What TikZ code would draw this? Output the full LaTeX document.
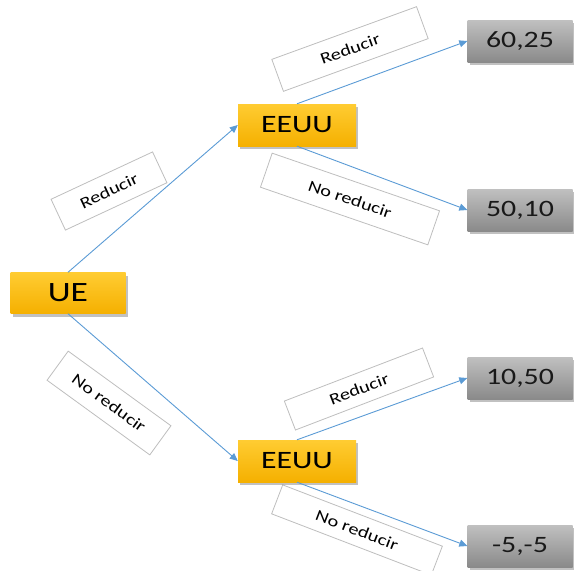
\documentclass[tikz,border=0pt]{standalone}
\usepackage{fontspec}
\setmainfont{Carlito}
\newfontfamily\widefont[FakeStretch=1.27]{Carlito}
\usetikzlibrary{arrows.meta,shadows}
\definecolor{goldtop}{RGB}{255,204,50}
\definecolor{goldbot}{RGB}{245,176,0}
\definecolor{greytop}{RGB}{192,192,192}
\definecolor{greybot}{RGB}{138,138,138}
\definecolor{linkblue}{RGB}{91,155,213}
\definecolor{framegrey}{RGB}{190,190,190}
\tikzset{
  player/.style={draw=none, top color=goldtop, bottom color=goldbot,
    inner sep=0pt, text=black,
    drop shadow={shadow xshift=2pt, shadow yshift=-3pt, opacity=0.35, fill=black!70}},
  payoff/.style={draw=none, top color=greytop, bottom color=greybot,
    minimum width=105pt, minimum height=42pt, inner sep=0pt, text=black!90,
    font=\widefont\fontsize{23.5}{26}\selectfont,
    drop shadow={shadow xshift=2pt, shadow yshift=-3pt, opacity=0.35, fill=black!70}},
  movebox/.style={draw=framegrey, line width=0.8pt, fill=white, inner sep=0pt,
    font=\widefont\fontsize{16}{18}\selectfont},
  move/.style={draw=linkblue, line width=0.9pt, -{Triangle[length=8pt,width=7pt]}}
}
\begin{document}
\begin{tikzpicture}[x=1pt,y=-1pt]
\useasboundingbox (0,0) rectangle (574,571);

% choice labels
\node[movebox, minimum width=112pt, minimum height=34pt, rotate=25] (l1) at (109,191) {Reducir};
\node[movebox, minimum width=127pt, minimum height=36pt, rotate=-36] (l2) at (109,403) {No reducir};
\node[movebox, minimum width=154pt, minimum height=34pt, rotate=20] (l3) at (350,49) {Reducir};
\node[movebox, minimum width=177pt, minimum height=36pt, rotate=-19] (l4) at (350,199) {No reducir};
\node[movebox, minimum width=148pt, minimum height=31pt, rotate=21] (l5) at (359,389) {Reducir};
\node[movebox, minimum width=171pt, minimum height=31pt, rotate=-21] (l6) at (357,530) {No reducir};

% decision nodes
\node[player, minimum width=115pt, minimum height=41pt,
      font=\widefont\fontsize{28}{30}\selectfont] (ue) at (68,293) {UE};
\node[player, minimum width=118pt, minimum height=42pt,
      font=\widefont\fontsize{25}{28}\selectfont] (e1) at (297,125) {EEUU};
\node[player, minimum width=118pt, minimum height=42pt,
      font=\widefont\fontsize{25}{28}\selectfont] (e2) at (297,461) {EEUU};

% payoffs
\node[payoff] (p1) at (520,41) {60,25};
\node[payoff] (p2) at (520,210) {50,10};
\node[payoff] (p3) at (520,378) {10,50};
\node[payoff] (p4) at (520,546) {-5,-5};

% branches
\draw[move] (ue.north) -- (e1.west);
\draw[move] (ue.south) -- (e2.west);
\draw[move] (e1.north) -- (p1.west);
\draw[move] (e1.south) -- (p2.west);
\draw[move] (e2.north) -- (p3.west);
\draw[move] (e2.south) -- (p4.west);
\end{tikzpicture}
\end{document}
